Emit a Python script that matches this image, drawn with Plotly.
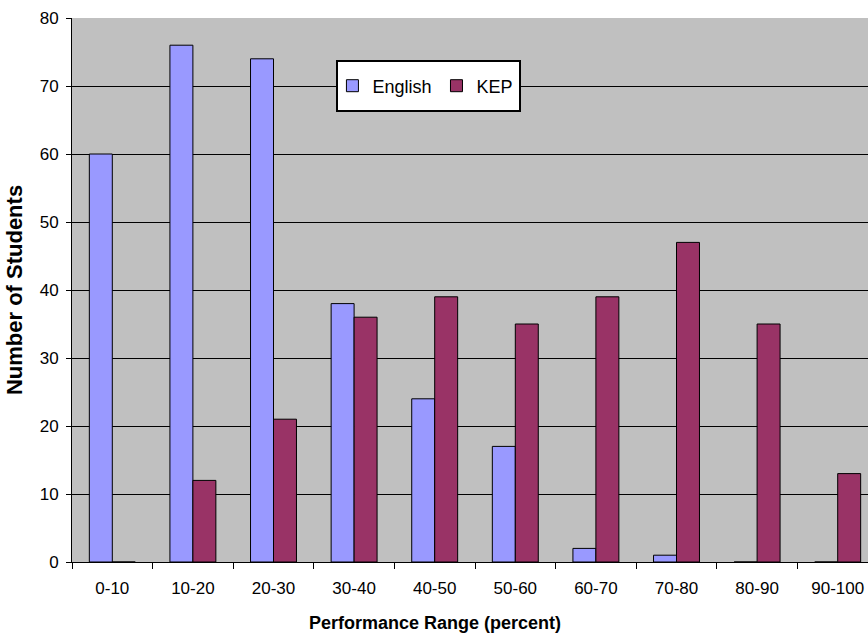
import plotly.graph_objects as go

categories = ["0-10", "10-20", "20-30", "30-40", "40-50", "50-60", "60-70", "70-80", "80-90", "90-100"]
english = [60, 76, 74, 38, 24, 17, 2, 1, 0, 0]
kep = [0, 12, 21, 36, 39, 35, 39, 47, 35, 13]
y_ticks = [0, 10, 20, 30, 40, 50, 60, 70, 80]

fig = go.Figure()
fig.add_trace(go.Bar(x=categories, y=english, name="English",
                     marker=dict(color="#9999FF", line=dict(color="black", width=1))))
fig.add_trace(go.Bar(x=categories, y=kep, name="KEP",
                     marker=dict(color="#993366", line=dict(color="black", width=1))))

font_family = "Liberation Sans, Arial, sans-serif"

fig.update_layout(
    width=868, height=643,
    margin=dict(l=72, r=0, t=18, b=81),
    paper_bgcolor="white",
    plot_bgcolor="#C0C0C0",
    barmode="group",
    bargap=0.43,
    bargroupgap=0,
    font=dict(family=font_family, color="black", size=17),
    showlegend=True,
    legend=dict(
        orientation="h",
        x=0.444, y=0.875, xanchor="center", yanchor="middle",
        bgcolor="rgba(0,0,0,0)", borderwidth=0,
        font=dict(size=18, family=font_family, color="black"),
        itemwidth=30,
    ),
    xaxis=dict(
        type="category",
        range=[-0.5, 9.376],
        showgrid=False,
        showline=True, linecolor="black", linewidth=1,
        ticks="outside", tickson="boundaries", ticklen=6, tickcolor="black",
        ticklabelstandoff=11,
        tickfont=dict(size=17, family=font_family),
        zeroline=False,
    ),
    yaxis=dict(
        range=[0, 80],
        tickvals=y_ticks,
        showgrid=True, gridcolor="black", gridwidth=1,
        showline=True, linecolor="black", linewidth=1,
        ticks="outside", ticklen=5, tickcolor="black",
        ticklabelstandoff=4,
        tickfont=dict(size=17, family=font_family),
        title=dict(text="<b>Number of Students</b>", font=dict(size=22, family=font_family), standoff=10),
        zeroline=False,
    ),
    annotations=[dict(text="<b>Performance Range (percent)</b>", xref="paper", yref="paper",
                      x=(435 - 72) / 796, y=-(623 - 562) / 544, xanchor="center", yanchor="middle",
                      showarrow=False, font=dict(size=18, family=font_family, color="black"))],
    shapes=[dict(type="rect", xref="paper", yref="paper",
                 x0=(337 - 72) / 796, x1=(520 - 72) / 796,
                 y0=(562 - 111) / 544, y1=(562 - 61) / 544,
                 fillcolor="white", line=dict(color="black", width=2), layer="above")],
)

fig.write_html("out.html",
               config={"displayModeBar": False},
               post_script="document.body.style.margin='0';document.body.style.overflow='hidden';")
